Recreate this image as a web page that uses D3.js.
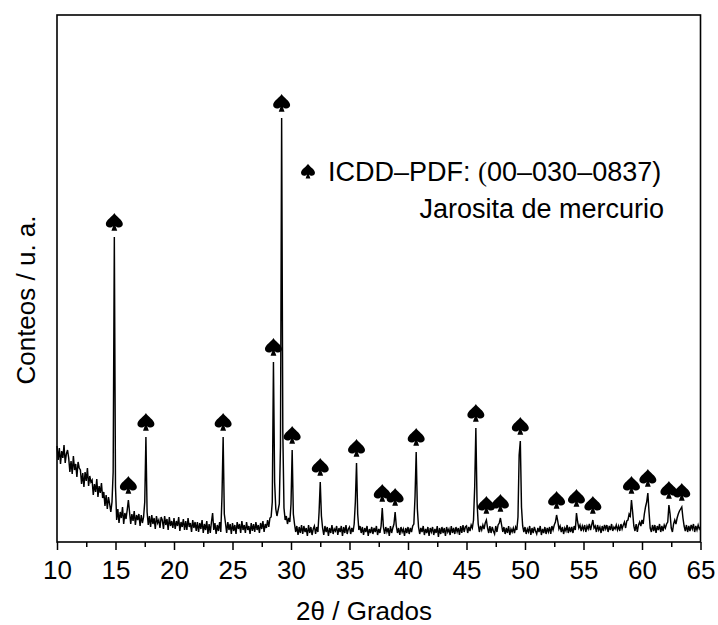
<!DOCTYPE html>
<html>
<head>
<meta charset="utf-8">
<script src="https://cdn.jsdelivr.net/npm/d3@7/dist/d3.min.js"></script>
<style>
  html, body { margin: 0; padding: 0; background: #fff; }
  svg { display: block; }
  text { font-family: "Liberation Sans", Arial, sans-serif; fill: #000; }
</style>
</head>
<body>
<svg id="chart" width="718" height="625"></svg>
<script>
// Diffractogram scan: 2θ from 10° to 65°, step 0.1°
const scanStart = 10;
const scanStep = 0.1;

// Counts (arbitrary units), one row per degree
const counts = [
  96, 82, 94, 78, 91, 84, 97, 79, 88, 92,      // 10
  84, 70, 81, 68, 86, 72, 78, 65, 80, 74,      // 11
  72, 58, 69, 55, 70, 61, 74, 56, 66, 60,      // 12
  62, 47, 58, 50, 63, 45, 56, 49, 59, 44,      // 13
  50, 36, 47, 33, 45, 38, 30, 40, 70, 305,     // 14
  55, 22, 33, 19, 30, 24, 35, 18, 29, 23,      // 15
  32, 42, 30, 18, 28, 21, 31, 17, 27, 22,      // 16
  28, 16, 27, 19, 25, 40, 105, 30, 17, 26,     // 17
  15, 27, 18, 24, 13, 26, 19, 22, 14, 25,      // 18
  22, 13, 26, 17, 23, 12, 25, 16, 21, 14,      // 19
  24, 13, 21, 16, 25, 11, 20, 15, 23, 12,      // 20
  21, 12, 24, 15, 19, 10, 22, 14, 20, 11,      // 21
  20, 10, 19, 13, 22, 9, 18, 12, 21, 8,        // 22
  18, 9, 20, 29, 12, 19, 8, 17, 11, 20,        // 23
  10, 45, 105, 28, 19, 9, 20, 12, 18, 8,       // 24
  19, 11, 17, 8, 20, 13, 18, 9, 21, 12,        // 25
  17, 9, 20, 12, 16, 8, 19, 11, 18, 10,        // 26
  20, 12, 17, 9, 19, 13, 21, 10, 18, 14,       // 27
  22, 15, 24, 25, 40, 180, 60, 33, 26, 32,     // 28
  38, 95, 424, 110, 34, 22, 26, 18, 24, 20,    // 29
  38, 92, 28, 18, 10, 16, 7, 15, 9, 17,        // 30
  8, 16, 10, 14, 6, 17, 9, 15, 7, 13,          // 31
  16, 8, 15, 10, 30, 60, 26, 14, 7, 16,        // 32
  10, 15, 6, 14, 9, 17, 8, 13, 11, 16,         // 33
  7, 14, 10, 16, 6, 15, 9, 17, 8, 13,          // 34
  15, 8, 14, 10, 18, 40, 79, 28, 12, 16,       // 35
  9, 15, 7, 14, 10, 16, 6, 13, 9, 15,          // 36
  8, 14, 10, 16, 7, 13, 9, 16, 34, 15,         // 37
  8, 15, 10, 14, 6, 16, 9, 14, 18, 30,         // 38
  16, 9, 14, 7, 15, 10, 13, 6, 14, 9,          // 39
  15, 8, 14, 10, 16, 18, 45, 90, 33, 15,       // 40
  8, 14, 10, 16, 7, 13, 9, 15, 6, 14,          // 41
  10, 15, 7, 13, 9, 16, 5, 14, 8, 15,          // 42
  9, 14, 6, 15, 10, 13, 7, 16, 9, 14,          // 43
  8, 15, 10, 14, 7, 16, 9, 17, 10, 15,         // 44
  16, 9, 15, 11, 17, 14, 22, 55, 114, 40,      // 45
  18, 10, 16, 12, 17, 13, 19, 22, 14, 9,       // 46
  16, 9, 15, 11, 8, 16, 10, 17, 19, 24,        // 47
  17, 10, 15, 8, 14, 9, 16, 7, 13, 10,         // 48
  14, 9, 15, 12, 25, 87, 101, 35, 16, 10,      // 49
  15, 8, 13, 10, 16, 7, 14, 9, 15, 11,         // 50
  8, 14, 10, 16, 7, 13, 9, 15, 8, 14,          // 51
  10, 15, 8, 16, 12, 17, 20, 27, 21, 13,       // 52
  16, 10, 15, 8, 14, 11, 17, 9, 15, 10,        // 53
  15, 9, 16, 12, 29, 20, 14, 17, 11, 16,       // 54
  12, 17, 10, 16, 13, 18, 12, 17, 22, 14,      // 55
  16, 10, 17, 12, 15, 9, 16, 11, 17, 13,       // 56
  17, 10, 16, 12, 18, 11, 15, 13, 17, 12,      // 57
  16, 11, 18, 13, 17, 20, 14, 21, 22, 28,      // 58
  26, 42, 30, 16, 11, 18, 10, 17, 20, 16,      // 59
  22, 18, 28, 35, 40, 49, 30, 14, 10, 17,      // 60
  11, 17, 9, 16, 12, 18, 10, 16, 11, 17,       // 61
  14, 18, 20, 37, 28, 14, 10, 18, 22, 18,      // 62
  24, 28, 31, 33, 35, 24, 16, 11, 17, 10,      // 63
  16, 11, 17, 13, 18, 10, 16, 12, 17, 13,      // 64
  15                                           // 65
];

// Reflections assigned to ICDD–PDF 00-030-0837 (2θ, degrees)
const reflections = [14.9, 16.1, 17.6, 24.2, 28.5, 29.2, 30.1, 32.5, 35.6, 37.8, 38.9,
  40.7, 45.8, 46.7, 47.9, 49.6, 52.7, 54.4, 55.8, 59.1, 60.5, 62.3, 63.4];

const xTicks = [10, 15, 20, 25, 30, 35, 40, 45, 50, 55, 60, 65];
const xMinorTicks = [12.5, 17.5, 22.5, 27.5, 32.5, 37.5, 42.5, 47.5, 52.5, 57.5, 62.5];

const xTitle = "2\u03B8 / Grados";
const yTitle = "Conteos / u. a.";
const legendCode = ["ICDD\u2013PDF: ", "(", "00\u2013030\u20130837)"];
const legendName = "Jarosita de mercurio";

const scan = counts.map((c, i) => ({ angle: scanStart + i * scanStep, count: c }));

const svg = d3.select("#chart");
const box = { left: 57, right: 700.5, top: 15, bottom: 542 };

const x = d3.scaleLinear().domain([10, 65]).range([box.left, box.right]);
const y = d3.scaleLinear().domain([0, 527]).range([box.bottom, box.top]);

// Diffraction pattern
const line = d3.line().x(d => x(d.angle)).y(d => y(d.count));
svg.append("path")
  .datum(scan)
  .attr("d", line)
  .attr("fill", "none")
  .attr("stroke", "#000")
  .attr("stroke-width", 1.45)
  .attr("stroke-linejoin", "miter");

// Frame
svg.append("rect")
  .attr("x", box.left).attr("y", box.top)
  .attr("width", box.right - box.left).attr("height", box.bottom - box.top)
  .attr("fill", "none").attr("stroke", "#000").attr("stroke-width", 1.6);

// Bottom axis: major ticks with labels, minor ticks without
const gx = svg.append("g").attr("transform", `translate(0,${box.bottom})`);
gx.call(d3.axisBottom(x).tickValues(xTicks).tickSize(8).tickPadding(11).tickFormat(d3.format("d")));
gx.append("g").call(d3.axisBottom(x).tickValues(xMinorTicks).tickSize(5).tickFormat(""));
gx.selectAll(".domain").remove();
gx.selectAll("line").attr("stroke", "#000").attr("stroke-width", 1.5);
gx.selectAll("text")
  .attr("fill", "#000")
  .style("font-family", "'Liberation Sans', Arial, sans-serif")
  .style("font-size", "26px");

// Axis titles
svg.append("text")
  .attr("x", 364).attr("y", 620)
  .attr("text-anchor", "middle")
  .style("font-size", "26px")
  .text(xTitle);

svg.append("text")
  .attr("transform", "translate(35,300) rotate(-90)")
  .attr("text-anchor", "middle")
  .style("font-size", "26px")
  .text(yTitle);

// Spade marker
const spadePath = "M0,-10 C1.5,-6.5 8.5,-3.5 8.5,1 C8.5,4.7 3.6,5.7 1.2,3 L2.9,7.8 L-2.9,7.8 L-1.2,3 " +
  "C-3.6,5.7 -8.5,4.7 -8.5,1 C-8.5,-3.5 -1.5,-6.5 0,-10 Z";

// Marker above each assigned reflection, sitting over the local maximum
const markers = reflections.map(a => {
  const i = Math.round((a - scanStart) / scanStep);
  const top = d3.max(counts.slice(Math.max(0, i - 1), i + 2));
  return { angle: a, top };
});

svg.append("g").selectAll("path")
  .data(markers)
  .join("path")
  .attr("d", spadePath)
  .attr("transform", d => `translate(${x(d.angle)},${y(d.top) - 14})`)
  .attr("fill", "#000");

// Legend
svg.append("path")
  .attr("d", spadePath)
  .attr("transform", "translate(308,172) scale(0.82)")
  .attr("fill", "#000");

const code = svg.append("text")
  .attr("x", 328).attr("y", 181)
  .style("font-size", "27px");
code.append("tspan").text(legendCode[0]);
code.append("tspan").style("font-family", "'Liberation Serif', 'Times New Roman', serif").text(legendCode[1]);
code.append("tspan").text(legendCode[2]);

svg.append("text")
  .attr("x", 664).attr("y", 218)
  .attr("text-anchor", "end")
  .style("font-size", "27px")
  .text(legendName);
</script>
</body>
</html>
